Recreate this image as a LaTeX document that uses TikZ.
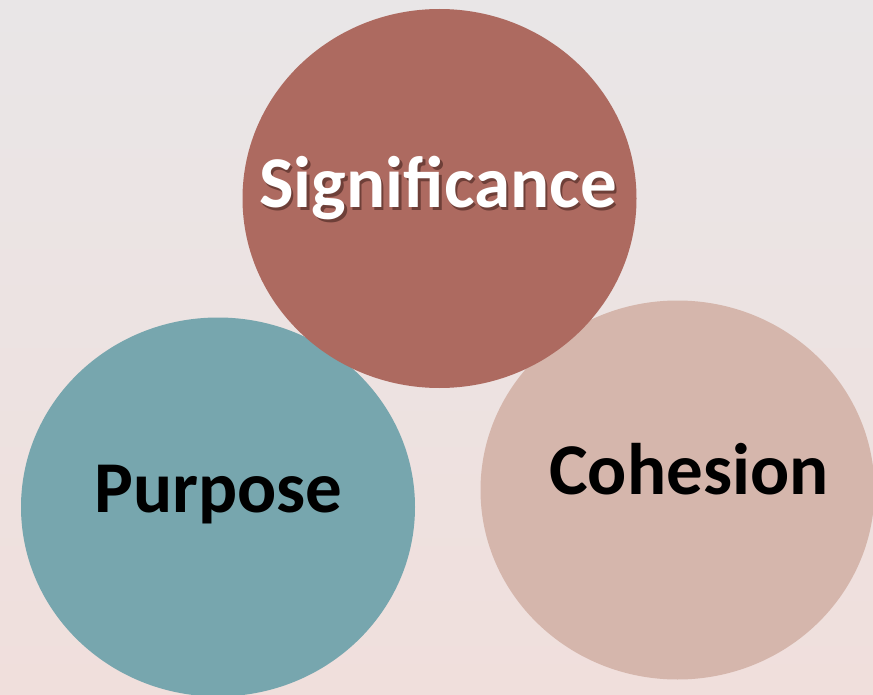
\documentclass[tikz,border=0pt]{standalone}
\usepackage{fontspec}
\setmainfont{Carlito}
\usetikzlibrary{shapes.geometric}
\definecolor{sigcol}{HTML}{AD6A60}
\definecolor{purcol}{HTML}{77A6AE}
\definecolor{cohcol}{HTML}{D5B6AC}
\definecolor{bgtop}{HTML}{E9E6E7}
\definecolor{bgbot}{HTML}{F0DFDC}
\definecolor{shadowcol}{HTML}{6E3F38}
\newcommand{\shadowtext}[1]{\rlap{\kern2.5pt\raisebox{-3pt}{\textcolor{shadowcol}{#1}}}#1}
\tikzset{
  blob/.style={ellipse, inner sep=0pt, minimum width=394pt, minimum height=379pt, draw=none},
  lbl/.style={anchor=base, inner sep=0pt, font=\bfseries\fontsize{73}{86}\selectfont},
}
\begin{document}
\begin{tikzpicture}[x=1pt,y=-1pt]
\useasboundingbox (0,0) rectangle (873,695);
\shade[top color=bgtop, bottom color=bgbot] (0,0) rectangle (873,695);
\node[blob, fill=purcol] (purpose) at (218,507) {};
\node[blob, fill=cohcol] (cohesion) at (677.5,490) {};
\node[blob, fill=sigcol] (significance) at (439.5,198.5) {};
\node[lbl, text=white] (sigtext) at (438,208) {\shadowtext{Significance}};
\node[lbl, text=black] (purtext) at (218.5,512) {Purpose};
\node[lbl, text=black] (cohtext) at (689,494) {Cohesion};
\end{tikzpicture}
\end{document}
